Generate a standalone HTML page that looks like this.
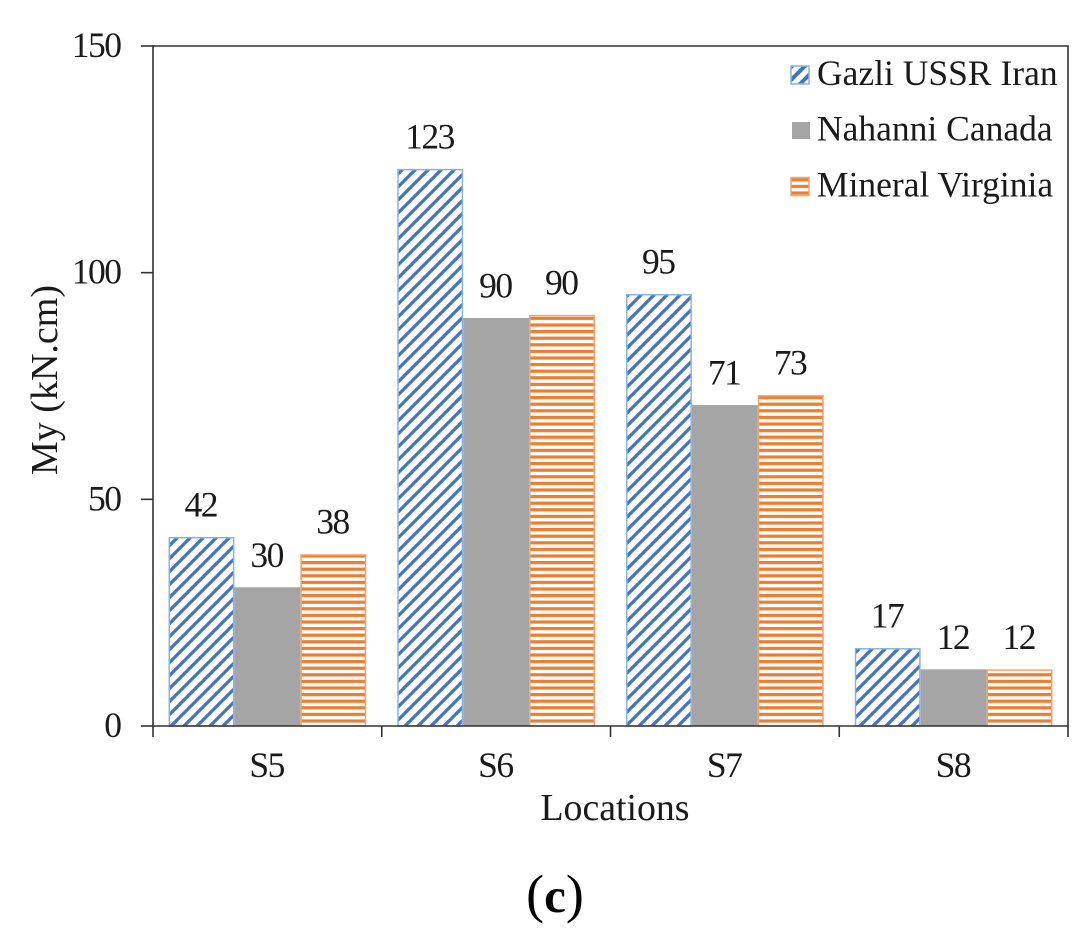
<!DOCTYPE html>
<html lang="en">
<head>
<meta charset="utf-8">
<title>My by location</title>
<style>
html,body{margin:0;padding:0;background:#fff;width:1092px;height:938px;overflow:hidden}
svg{display:block}
text{font-family:"Liberation Serif",serif;fill:#1a1a1a}
</style>
</head>
<body>
<svg id="chart" width="1092" height="938" viewBox="0 0 1092 938" xmlns="http://www.w3.org/2000/svg">
<defs>
<pattern id="hatch-blue" patternUnits="userSpaceOnUse" width="13" height="13">
<rect width="13" height="13" fill="#fff"/>
<path d="M-3.25 3.25L3.25 -3.25M-3.25 16.25L16.25 -3.25M9.75 16.25L16.25 9.75" stroke="#4472c4" stroke-width="3.2"/>
</pattern>
<pattern id="hatch-orange" patternUnits="userSpaceOnUse" width="13" height="6.6">
<rect width="13" height="6.6" fill="#fff"/>
<rect y="0" width="13" height="3.2" fill="#ed7d31"/>
</pattern>
<pattern id="hatch-blue-legend" patternUnits="userSpaceOnUse" width="13" height="13">
<rect width="13" height="13" fill="#fff"/>
<path d="M-3.25 3.25L3.25 -3.25M-3.25 16.25L16.25 -3.25M9.75 16.25L16.25 9.75" stroke="#4472c4" stroke-width="4"/>
</pattern>
</defs>
<g id="plot"></g>
</svg>
<script>
const categories = ['S5', 'S6', 'S7', 'S8'];
const seriesNames = ['Gazli USSR Iran', 'Nahanni Canada', 'Mineral Virginia'];
const gazliValues = [41.7, 122.9, 95.3, 17.2];
const nahanniValues = [30.6, 90, 70.8, 12.5];
const mineralValues = [37.9, 90.7, 73, 12.5];
const gazliLabels = ['42', '123', '95', '17'];
const nahanniLabels = ['30', '90', '71', '12'];
const mineralLabels = ['38', '90', '73', '12'];
const yTicks = [0, 50, 100, 150];

const plotLeft = 153, plotRight = 1068, plotTop = 46, plotBottom = 726;
const yMax = 150;
const numSize = 35.5, numSpacing = -1.5;
const NS = 'http://www.w3.org/2000/svg';
const root = document.getElementById('plot');

function yScale(v) { return plotBottom - (v / yMax) * (plotBottom - plotTop); }
function band() { return (plotRight - plotLeft) / categories.length; }
function xScale(i) { return plotLeft + i * band(); }
function make(tag, attrs, text) {
  const el = document.createElementNS(NS, tag);
  for (const k in attrs) el.setAttribute(k, attrs[k]);
  if (text !== undefined) el.textContent = text;
  root.appendChild(el);
  return el;
}

const seriesValues = [gazliValues, nahanniValues, mineralValues];
const seriesLabels = [gazliLabels, nahanniLabels, mineralLabels];
const seriesFill = ['url(#hatch-blue)', '#a5a5a5', 'url(#hatch-orange)'];
const seriesStroke = ['#86b4e6', 'none', '#f4a26d'];
const seriesKey = ['gazli', 'nahanni', 'mineral'];
const groupInset = 15.5;
const barW = (band() - 2 * groupInset) / 3;

seriesValues.forEach(function (vals, s) {
  vals.forEach(function (v, i) {
    const bx = xScale(i) + groupInset + s * barW;
    const inset = s === 1 ? 0 : 0.75;
    const bar = make('rect', {
      x: bx + inset, y: yScale(v) + inset,
      width: barW - 2 * inset,
      height: plotBottom - yScale(v) - inset,
      fill: seriesFill[s], stroke: seriesStroke[s], 'stroke-width': s === 1 ? 0 : 1.5
    });
    
    
    const lab = make('text', {
      x: bx + barW / 2 + numSpacing / 2, y: yScale(v) - 20.5, 'font-size': numSize,
      'letter-spacing': numSpacing, 'text-anchor': 'middle'
    }, seriesLabels[s][i]);
    
    
  });
});

const frame = make('path', {
  d: 'M' + plotLeft + ' ' + plotTop + 'H' + plotRight + 'V' + plotBottom + 'H' + plotLeft + 'Z',
  fill: 'none', stroke: '#333', 'stroke-width': 1.6
});



yTicks.forEach(function (t) {
  const tick = make('line', {
    x1: plotLeft - 12, x2: plotLeft, y1: yScale(t), y2: yScale(t), stroke: '#333', 'stroke-width': 1.6
  });
  
  
  const lab = make('text', {
    x: 122 + numSpacing, y: yScale(t) + 11, 'font-size': numSize,
    'letter-spacing': numSpacing, 'text-anchor': 'end'
  }, String(t));
  
  
});

for (let i = 0; i <= categories.length; i++) {
  const tick = make('line', {
    x1: xScale(i), x2: xScale(i), y1: plotBottom, y2: plotBottom + 11, stroke: '#333', 'stroke-width': 1.6
  });
  
  
}
categories.forEach(function (c, i) {
  const lab = make('text', {
    x: xScale(i) + band() / 2 + numSpacing / 2, y: 777, 'font-size': numSize,
    'letter-spacing': numSpacing, 'text-anchor': 'middle'
  }, c);
  
  
});

const xTitle = make('text', { x: 615, y: 820, 'font-size': 37.8, 'text-anchor': 'middle' }, 'Locations');



const yTitle = make('text', {
  x: 0, y: 0, 'font-size': 38, 'text-anchor': 'middle',
  transform: 'translate(57 380) rotate(-90)'
}, 'My (kN.cm)');



const legendRows = [75, 130.5, 186.5];
const legendFill = ['url(#hatch-blue-legend)', '#a5a5a5', 'url(#hatch-orange)'];
seriesNames.forEach(function (n, s) {
  const hasStroke = seriesStroke[s] !== 'none';
  const sw = make('rect', {
    x: hasStroke ? 791 : 792, y: legendRows[s] - (hasStroke ? 9 : 8.5),
    width: 18, height: hasStroke ? 18 : 17,
    fill: legendFill[s], stroke: seriesStroke[s], 'stroke-width': hasStroke ? 1.5 : 0
  });
  
  
  const t = make('text', { x: 817, y: legendRows[s] + 10, 'font-size': 35.5 }, n);
  
  
});

const cap = make('text', { x: 555, y: 912, 'font-size': 54, 'text-anchor': 'middle' });


cap.style.fill = '#000';
cap.innerHTML = '(<tspan font-weight="bold" font-size="49">c</tspan>)';
</script>
</body>
</html>
